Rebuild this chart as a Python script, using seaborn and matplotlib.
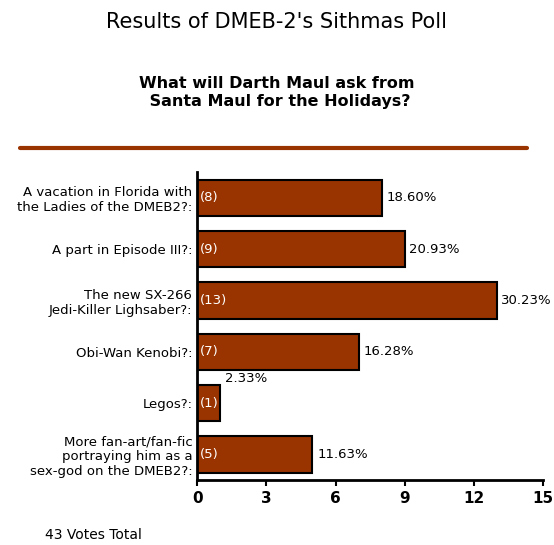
import matplotlib
matplotlib.use("Agg")
import matplotlib.pyplot as plt
import seaborn as sns
import pandas as pd

categories = ["A vacation in Florida with\nthe Ladies of the DMEB2?:",
              "A part in Episode III?:",
              "The new SX-266\nJedi-Killer Lighsaber?:",
              "Obi-Wan Kenobi?:",
              "Legos?:",
              "More fan-art/fan-fic\nportraying him as a\nsex-god on the DMEB2?:"]
votes = [8, 9, 13, 7, 1, 5]
percents = ["18.60%", "20.93%", "30.23%", "16.28%", "2.33%", "11.63%"]
ticks = [0, 3, 6, 9, 12, 15]

df = pd.DataFrame({"cat": categories, "votes": votes})
sns.set_style("white")
plt.rcParams['font.family'] = ['DejaVu Sans']
plt.rcParams['text.color'] = 'black'
plt.rcParams['xtick.color'] = 'black'
plt.rcParams['ytick.color'] = 'black'
plt.rcParams['axes.edgecolor'] = 'black'
fig = plt.figure(figsize=(5.54, 5.45), dpi=100)
ax = fig.add_axes([0.356, 0.119, 0.624, 0.565])
sns.barplot(data=df, x="votes", y="cat", color="#993300", edgecolor="black",
            linewidth=1.5, width=0.71, saturation=1, ax=ax)
ax.set_xlim(0, 15)
ax.set_ylim(5.5, -0.5)
ax.set_xticks(ticks)
ax.set_xticklabels([str(t) for t in ticks], fontweight="bold", fontsize=11)
ax.set_xlabel(""); ax.set_ylabel("")
ax.tick_params(axis="y", labelsize=9.5, length=0)
ax.tick_params(axis="x", length=4, direction="out", bottom=True, width=1.5)
for s in ["top", "right"]:
    ax.spines[s].set_visible(False)
for s in ["left", "bottom"]:
    ax.spines[s].set_linewidth(2)
for i, (v, p) in enumerate(zip(votes, percents)):
    ax.text(0.1, i, f"({v})", color="white", va="center", ha="left", fontsize=9.5)
    if v == 1:
        ax.text(v + 0.2, i - 0.48, p, va="center", ha="left", fontsize=9.5)
    else:
        ax.text(v + 0.2, i, p, va="center", ha="left", fontsize=9.5)
fig.text(0.5, 0.96, "Results of DMEB-2's Sithmas Poll", ha="center", va="center", fontsize=15)
fig.text(0.5, 0.83, "What will Darth Maul ask from\n Santa Maul for the Holidays?", ha="center",
         va="center", fontsize=11.5, fontweight="bold")
fig.add_artist(plt.Line2D([20/554, 527/554], [1-148/545]*2, color="#993300", lw=3))
fig.text(45/554, 1-535/545, "43 Votes Total", ha="left", va="center", fontsize=10)
fig.savefig("out.png", dpi=100)
